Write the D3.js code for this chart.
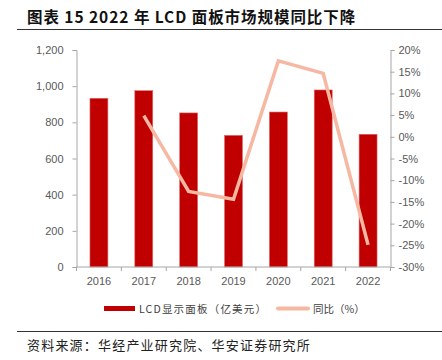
<!DOCTYPE html>
<html><head><meta charset="utf-8">
<script src="https://cdn.jsdelivr.net/npm/d3@7/dist/d3.min.js"></script>
<style>body{margin:0;background:#fff}svg{display:block}</style>
</head><body>
<svg id="c" width="442" height="360"></svg>
<script>
const years = ["2016","2017","2018","2019","2020","2021","2022"];
const marketValues = [933, 975, 852, 728, 857, 979, 734];
const yoyYears = ["2017","2018","2019","2020","2021","2022"];
const yoyValues = [4.9, -12.6, -14.4, 17.5, 14.6, -24.9];
const leftTicks = [0, 200, 400, 600, 800, 1000, 1200];
const rightTicks = [-30, -25, -20, -15, -10, -5, 0, 5, 10, 15, 20];
const title = "图表 15 2022 年 LCD 面板市场规模同比下降";
const source = "资料来源：华经产业研究院、华安证券研究所";
const legendLabels = ["LCD显示面板（亿美元）", "同比（%）"];

const svg = d3.select("#c");
const L = 76.5, R = 390.5, T = 50, B = 267;
const axisColor = "#A6A6A6", labelColor = "#595959";
const barColor = "#C00000", lineColor = "#F6B8A2";
const cjk = "'Noto Sans CJK SC','Noto Sans',sans-serif";
const latin = "'Liberation Sans',Arial,sans-serif";

// title
svg.append("text").attr("x", 27).attr("y", 23).attr("font-family", cjk)
  .attr("font-weight", "bold").attr("font-size", 15.5).attr("letter-spacing", 0.95)
  .attr("fill", "#111").text(title);
svg.append("line").attr("x1", 17).attr("x2", 442).attr("y1", 29.5).attr("y2", 29.5)
  .attr("stroke", "#333").attr("stroke-width", 1.2);

const x = d3.scaleBand().domain(years).range([L, R]).paddingInner(0.6).paddingOuter(0.3);
const yL = d3.scaleLinear().domain([0, 1200]).range([B, T]);
const yR = d3.scaleLinear().domain([-30, 20]).range([B, T]);

function styleAxis(g) {
  g.selectAll("path,line").attr("stroke", axisColor);
  g.selectAll("text").attr("fill", labelColor).attr("font-family", latin).attr("font-size", 11);
}

// left axis
svg.append("g").attr("transform", `translate(${L},0)`)
  .call(d3.axisLeft(yL).tickValues(leftTicks).tickFormat(d3.format(",")).tickSizeOuter(0).tickSize(4).tickPadding(9))
  .call(styleAxis);
// right axis
svg.append("g").attr("transform", `translate(${R},0)`)
  .call(d3.axisRight(yR).tickValues(rightTicks).tickFormat(d => d + "%").tickSizeOuter(0).tickSize(4).tickPadding(4))
  .call(styleAxis);

// bars
svg.append("g").selectAll("rect").data(years).join("rect")
  .attr("x", d => x(d)).attr("width", x.bandwidth())
  .attr("y", (d, i) => yL(marketValues[i])).attr("height", (d, i) => B - yL(marketValues[i]))
  .attr("fill", barColor).attr("stroke", "#E06A6A").attr("stroke-width", 0.6);

// x axis
const xa = svg.append("g").attr("transform", `translate(0,${B})`);
xa.call(d3.axisBottom(x).tickSize(0).tickPadding(10)).call(styleAxis);
xa.select(".domain").attr("d", `M${L},0H${R}`);
const step = x.step();
xa.selectAll(".sep").data(d3.range(0, years.length + 1)).join("line")
  .attr("x1", i => L + i * step).attr("x2", i => L + i * step)
  .attr("y1", 0).attr("y2", 4).attr("stroke", axisColor);

// line
const line = d3.line().x((d, i) => x(yoyYears[i]) + x.bandwidth() / 2).y(d => yR(d));
svg.append("path").datum(yoyValues).attr("d", line).attr("fill", "none")
  .attr("stroke", lineColor).attr("stroke-width", 3.5).attr("stroke-linejoin", "miter");

// legend
const ly = 308.5;
svg.append("rect").attr("x", 104).attr("y", ly - 2.5).attr("width", 31).attr("height", 5).attr("fill", barColor);
svg.append("text").attr("x", 139).attr("y", ly + 4).attr("font-family", cjk).attr("font-size", 10.5)
  .attr("letter-spacing", 1.2).attr("fill", "#404040").text(legendLabels[0]);
svg.append("line").attr("x1", 278).attr("x2", 308).attr("y1", ly).attr("y2", ly)
  .attr("stroke", lineColor).attr("stroke-width", 4).attr("stroke-linecap", "round");
svg.append("text").attr("x", 313).attr("y", ly + 4).attr("font-family", cjk).attr("font-size", 10.5)
  .attr("fill", "#404040").text(legendLabels[1]);

// source
svg.append("line").attr("x1", 17).attr("x2", 442).attr("y1", 331.5).attr("y2", 331.5)
  .attr("stroke", "#333").attr("stroke-width", 1);
svg.append("text").attr("x", 27).attr("y", 350).attr("font-family", cjk).attr("font-size", 13)
  .attr("letter-spacing", 1.2).attr("fill", "#222").text(source);
</script>
</body></html>
